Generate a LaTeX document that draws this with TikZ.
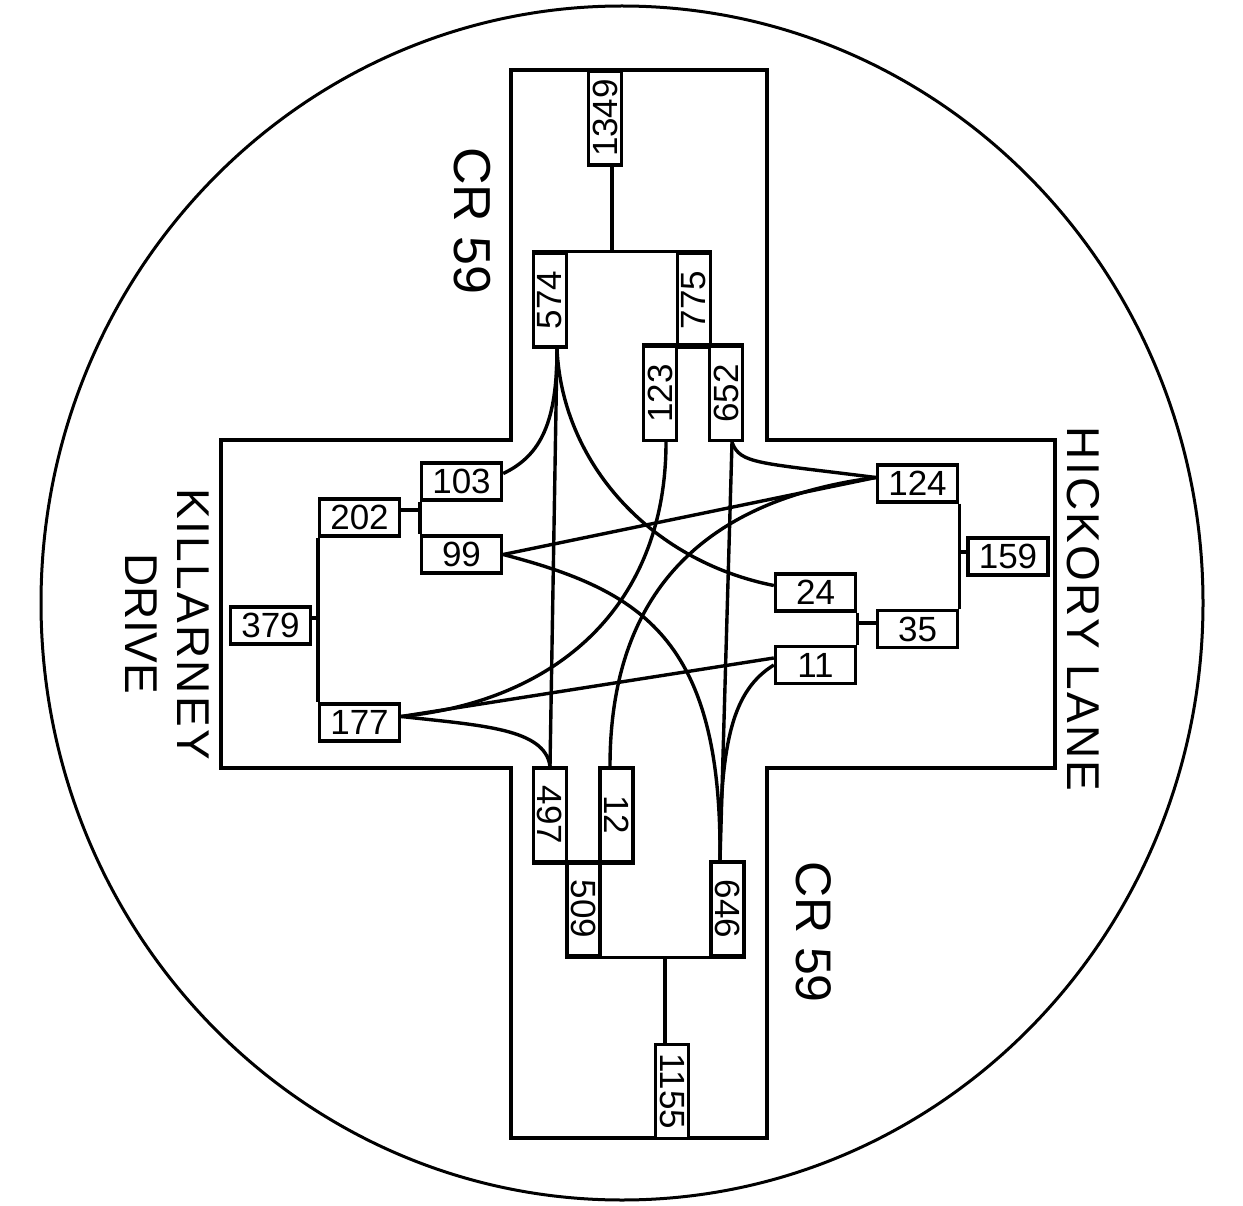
\documentclass[tikz,border=0pt]{standalone}
\usepackage{fontspec}
\setmainfont{Liberation Sans}
\newfontfamily\widefont[LetterSpace=5]{Liberation Sans}
\usepackage{graphicx}
\usetikzlibrary{calc, positioning}

\newcommand{\up}[1]{\rotatebox{90}{#1}}
\newcommand{\dn}[1]{\rotatebox{-90}{#1}}

\begin{document}
\begin{tikzpicture}[x=1pt, y=-1pt, line width=3.4pt,
  hbox/.style={draw, fill=white, minimum width=80pt, minimum height=37pt, inner sep=0pt, font=\fontsize{35}{35}\selectfont},
  vbox/.style={draw, fill=white, minimum width=33pt, minimum height=94pt, inner sep=0pt, font=\fontsize{35}{35}\selectfont},
  road/.style={rotate=-90, align=center, font=\fontsize{46}{52}\selectfont}]
  \useasboundingbox (0,0) rectangle (1243,1206);
  % surround
  \draw[line width=3pt] (622,603) ellipse [x radius=581, y radius=597];
  % roads
  \draw (511,70) -- (767,70) -- (767,440) -- (1055,440) -- (1055,768) -- (767,768) -- (767,1138)
    -- (511,1138) -- (511,768) -- (221,768) -- (221,440) -- (511,440) -- cycle;
  \node[road, font=\fontsize{52}{52}\selectfont] (cr1) at (472,221) {CR 59};
  \node[road, font=\fontsize{50}{52}\selectfont] (cr2) at (814,932) {CR 59};
  \node[road] (hick) at (1083,609) {\widefont HICKORY LANE};
  \node[road] (kill) at (167,624) {{\widefont KILLARNEY}\\DRIVE};

  % north
  \node[vbox] (n1349) at (605,118) {\up{1349}};
  \node[vbox] (n574) at (550,300) {\up{574}};
  \node[vbox] (n775) at (694,300) {\up{775}};
  \node[vbox] (n123) at (660,393.5) {\up{123}};
  \node[vbox] (n652) at (726,393.5) {\up{652}};
  % west
  \node[hbox] (n103) at (461.5,481.5) {103};
  \node[hbox] (n202) at (359.5,517.5) {202};
  \node[hbox] (n99) at (461.5,554.5) {99};
  \node[hbox] (n379) at (270.5,625.5) {379};
  \node[hbox] (n177) at (359.5,722.5) {177};
  % east
  \node[hbox] (n124) at (917.5,483.5) {124};
  \node[hbox] (n159) at (1008,556.5) {159};
  \node[hbox] (n24) at (815.5,592.5) {24};
  \node[hbox] (n35) at (917.5,629) {35};
  \node[hbox] (n11) at (815.5,665) {11};
  % south
  \node[vbox] (n497) at (550,815) {\dn{497}};
  \node[vbox] (n12) at (616.5,815) {\dn{12}};
  \node[vbox] (n509) at (583.5,909) {\dn{509}};
  \node[vbox] (n646) at (727.5,909) {\dn{646}};
  \node[vbox] (n1155) at (672,1091.5) {\dn{1155}};

  % splits
  \draw ([xshift=7pt]n1349.south) -- ([xshift=7pt]n1349.south |- n574.north);
  \draw (n574.north west) -- (n775.north east);
  \draw (n123.north west) -- (n652.north east);
  \draw (n103.south west) -- (n99.north west);
  \draw ([yshift=7.5pt]n202.east) -- ([yshift=7.5pt]n202.east -| n103.west);
  \draw (n202.south west) -- (n177.north west);
  \draw ([yshift=7.5pt]n379.east) -- ([yshift=7.5pt]n379.east -| n202.west);
  \draw (n124.south east) -- (n35.north east);
  \draw ([yshift=4.5pt]n159.west) -- ([yshift=4.5pt]n159.west -| n124.east);
  \draw (n24.south east) -- (n11.north east);
  \draw ([yshift=6pt]n35.west) -- ([yshift=6pt]n35.west -| n24.east);
  \draw (n497.south west) -- (n12.south east);
  \draw (n509.south west) -- (n646.south east);
  \draw ([xshift=-7pt]n1155.north) -- ([xshift=-7pt]n1155.north |- n509.south);

  % movements
  \draw ([xshift=7pt]n574.south) .. controls +(0,73) and +(38,-18) .. ([yshift=8pt]n103.east);
  \draw ([xshift=7pt]n574.south) -- (n497.north);
  \draw ([xshift=7pt]n574.south) .. controls +(5,113) and +(-125,-25) .. ([yshift=7pt]n24.west);
  \draw ([xshift=6pt]n123.south) .. controls +(0,160) and +(160,-16) .. ([yshift=6pt]n177.east);
  \draw ([yshift=6pt]n177.east) -- ([yshift=7pt]n11.west);
  \draw ([yshift=6pt]n177.east) .. controls +(80,9) and +(-5,-38) .. (n497.north);
  \draw ([xshift=6pt]n652.south) .. controls +(8,22) and +(-118,-15) .. ([yshift=6pt]n124.west);
  \draw ([xshift=6pt]n652.south) -- ([xshift=-7.5pt]n646.north);
  \draw ([yshift=6pt]n124.west) -- (n99.east);
  \draw ([yshift=6pt]n124.west) .. controls +(-178,23) and +(0,-168) .. ([xshift=-6.5pt]n12.north);
  \draw (n99.east) .. controls +(138,36) and +(2,-222) .. ([xshift=-7.5pt]n646.north);
  \draw (n11.west) .. controls +(-40,25) and +(0,-122) .. ([xshift=-7.5pt]n646.north);
\end{tikzpicture}
\end{document}
